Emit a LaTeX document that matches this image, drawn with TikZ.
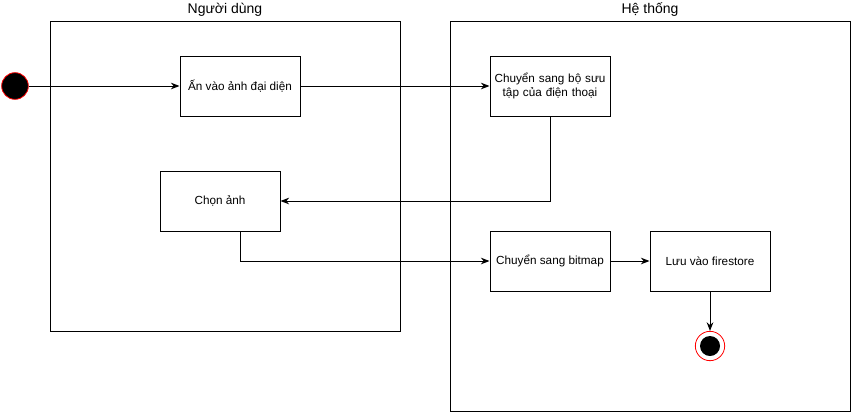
\documentclass[tikz,border=0pt]{standalone}
\usepackage{fontspec}
\setmainfont{Liberation Sans}
\usetikzlibrary{arrows.meta}
\begin{document}
\begin{tikzpicture}[x=0.75pt,y=-0.75pt,
  lane/.style={draw=black, line width=0.75pt},
  act/.style={draw=black, line width=0.75pt, minimum width=90pt, minimum height=45pt, align=center, font=\fontsize{8.8pt}{10.5pt}\selectfont, inner sep=2pt},
  conn/.style={draw=black, line width=0.75pt, -{Stealth[length=6.5pt,width=5pt]}},
  ttl/.style={font=\fontsize{10.5pt}{12pt}\selectfont}]
\useasboundingbox (0,0) rectangle (852,412);
% lanes
\draw[lane] (50,21) rectangle (400,331);
\draw[lane] (450,21) rectangle (850,411);
\node[ttl] (t1) at (225,10) {Người dùng};
\node[ttl] (t2) at (650,10) {Hệ thống};
% start
\node[circle, fill=black, draw=red, line width=0.6pt, minimum size=20pt, inner sep=0pt] (s) at (15,86) {};
% activities
\node[act] (a) at (240,86) {Ấn vào ảnh đại diện};
\node[act, text width=84pt] (b) at (550,86) {Chuyển sang bộ sưu\\tập của điện thoại};
\node[act] (c) at (220,201) {Chọn ảnh};
\node[act] (d) at (550,261) {Chuyển sang bitmap};
\node[act] (e) at (710,261) {Lưu vào firestore};
% end
\node[circle, draw=red, line width=0.6pt, fill=white, minimum size=22pt, inner sep=0pt] (f) at (710,346) {};
\node[circle, fill=black, minimum size=15pt, inner sep=0pt] (fi) at (710,346) {};
% connectors
\draw[conn] (s) -- (a);
\draw[conn] (a) -- (b);
\draw[conn] (b.south) |- (c.east);
\draw[conn] ([xshift=15pt]c.south) |- (d.west);
\draw[conn] (d) -- (e);
\draw[conn] (e) -- (f);
\end{tikzpicture}
\end{document}
